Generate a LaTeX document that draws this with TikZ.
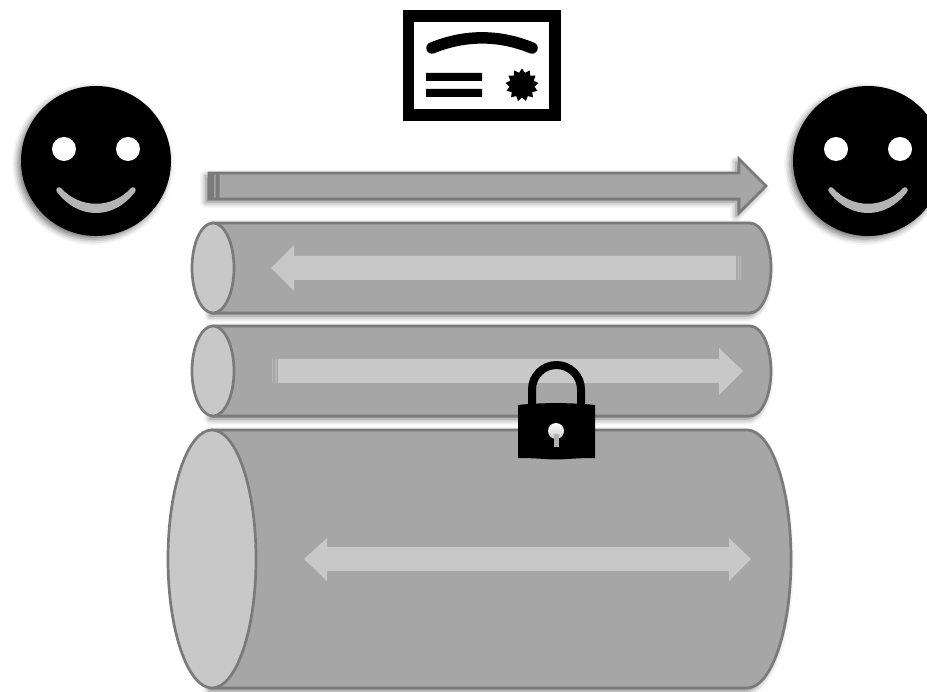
\documentclass[tikz,border=0pt]{standalone}
\usetikzlibrary{shapes.geometric,shadows.blur}
\definecolor{pipefill}{HTML}{A6A6A6}
\definecolor{pipeline}{HTML}{7A7A7A}
\definecolor{pipeface}{HTML}{C8C8C8}
\begin{document}
\begin{tikzpicture}[x=1pt,y=-1pt]
  \tikzstyle{softshade}=[blur shadow={shadow xshift=-3pt,shadow yshift=-3pt,shadow blur radius=6pt,shadow opacity=55}]
  \tikzstyle{pipe}=[draw=pipeline,fill=pipefill,line width=2.7pt,softshade]
  \tikzstyle{pipeend}=[draw=pipeline,fill=pipeface,line width=2.7pt]
  \tikzstyle{flow}=[fill=pipeface]
  \tikzstyle{stripe}=[fill=pipeface,opacity=0.55]
  \useasboundingbox (0,0) rectangle (927,692);
  % people
  \foreach \cx in {96,868} {
    \fill[black,softshade] (\cx,161) circle[radius=75pt];
    \fill[white] (\cx-32,149) circle[radius=12pt] (\cx+32,149) circle[radius=12pt];
    \filldraw[draw=pipeface!90!black,fill=pipeface!90!black,line width=5.5pt,line join=round] (\cx-37,190) .. controls (\cx-17,212) and (\cx+17,212) .. (\cx+37,190) .. controls (\cx+17,217) and (\cx-17,217) .. cycle;
  }
  % certificate
  \draw[line width=11.5pt] (408.7,16) rectangle (555,115);
  \draw[line width=11.5pt,line cap=round] (432,48) .. controls (465,34.5) and (499,34.5) .. (532,48);
  \fill (426,73) rectangle (482,81) (426,89) rectangle (482,97);
  \node[star,star points=13,star point ratio=1.32,fill=black,minimum size=33pt,inner sep=0pt] (seal) at (522,85) {};
  % top arrow
  \draw[pipe] (209,173) -- (739,173) -- (739,159) -- (766,186) -- (739,213) -- (739,199) -- (209,199) -- cycle;
  \fill[pipeline] (209,174) rectangle (214,198) (215.5,174) rectangle (219.5,198);
  % pipes
  \foreach \cy/\ry/\rx/\xl/\xr in {268/45/21/213/750,371/45/21/213/750,559/129/44/212/747} {
    \draw[pipe] (\xl,\cy-\ry) -- (\xr,\cy-\ry) arc[start angle=90,end angle=-90,x radius=\rx pt,y radius=\ry pt] -- (\xl,\cy+\ry) -- cycle;
    \draw[pipeend] (\xl,\cy) ellipse[x radius=\rx pt,y radius=\ry pt];
  }
  % arrows inside the pipes
  \fill[flow] (271,268) -- (294,245) -- (294,256) -- (736,256) -- (736,280) -- (294,280) -- (294,291) -- cycle;
  \fill[stripe] (737.5,256) rectangle (739,280) (740,256) rectangle (741,280);
  \fill[flow] (743,371) -- (719,348) -- (719,359) -- (278,359) -- (278,383) -- (719,383) -- (719,395) -- cycle;
  \fill[stripe] (275,359) rectangle (276.5,383) (272,359) rectangle (273,383);
  \fill[flow] (304,559) -- (327,538) -- (327,547) -- (729,547) -- (729,538) -- (751,559) -- (729,581) -- (729,571) -- (327,571) -- (327,581) -- cycle;
  % lock
  \draw[line width=8pt] (532,406) -- (532,389.5) arc[start angle=180,end angle=0,radius=24.5pt] -- (581,406);
  \fill (518,405) .. controls (540,402.5) and (572,402.5) .. (595,405) -- (595,458) .. controls (575,458) and (565,459.5) .. (556,459.5) .. controls (547,459.5) and (537,458) .. (518,458) -- cycle;
  \shade[top color=white,bottom color=pipeface] (556,431) circle[radius=8pt];
  \fill[pipefill!70!pipeface] (553.5,434) rectangle (558.5,447);
\end{tikzpicture}
\end{document}
